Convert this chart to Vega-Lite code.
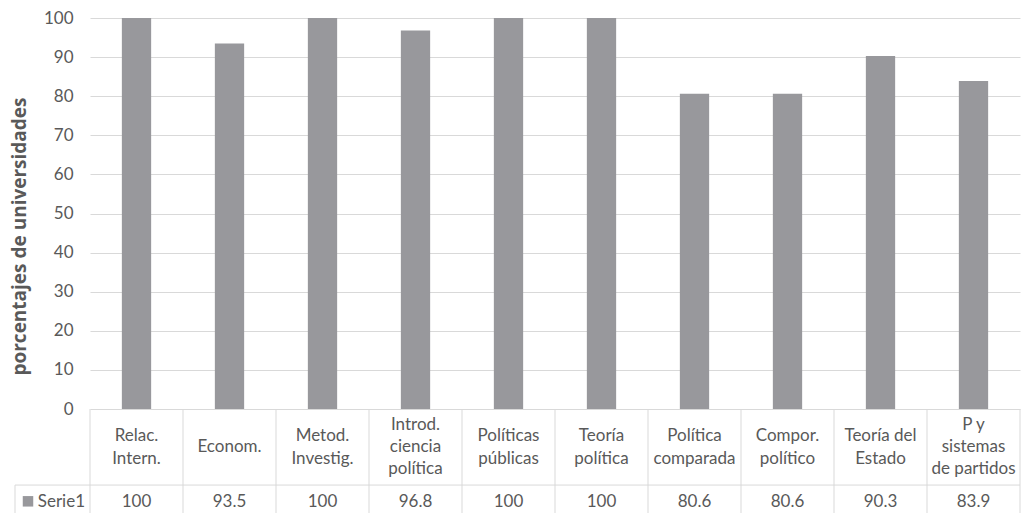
{
  "$schema": "https://vega.github.io/schema/vega-lite/v6.json",
  "autosize": "none",
  "width": 930,
  "height": 497,
  "padding": {"left": 90, "top": 18, "right": 2, "bottom": 0},
  "background": "white",
  "config": {
    "view": {"stroke": null},
    "font": "Lato",
    "text": {"font": "Lato", "fontSize": 17, "fill": "#595959"}
  },
  "data": {
    "values": [
      {"cat": "Relac.\nIntern.", "v": 100},
      {"cat": "Econom.", "v": 93.5},
      {"cat": "Metod.\nInvestig.", "v": 100},
      {"cat": "Introd.\nciencia\npolítica", "v": 96.8},
      {"cat": "Políticas\npúblicas", "v": 100},
      {"cat": "Teoría\npolítica", "v": 100},
      {"cat": "Política\ncomparada", "v": 80.6},
      {"cat": "Compor.\npolítico", "v": 80.6},
      {"cat": "Teoría del\nEstado", "v": 90.3},
      {"cat": "P y\nsistemas\nde partidos", "v": 83.9}
    ]
  },
  "encoding": {
    "x": {
      "field": "cat",
      "type": "nominal",
      "sort": null,
      "scale": {"paddingInner": 0, "paddingOuter": 0},
      "axis": null
    }
  },
  "layer": [
    {
      "mark": {"type": "bar", "color": "#98989c", "width": {"band": 0.315}},
      "encoding": {
        "y": {
          "field": "v",
          "type": "quantitative",
          "scale": {"domain": [-27.1, 100], "nice": false, "zero": false},
          "axis": {
            "values": [0, 10, 20, 30, 40, 50, 60, 70, 80, 90, 100],
            "grid": true,
            "gridColor": "#d9d9d9",
            "gridWidth": 1,
            "domain": false,
            "ticks": false,
            "labelFont": "Lato",
            "labelFontSize": 17,
            "labelColor": "#595959",
            "labelPadding": 17,
            "title": "porcentajes de universidades",
            "titleFont": "Open Sans",
            "titleFontSize": 19,
            "titleFontWeight": "bold",
            "titleColor": "#595959",
            "titleAngle": 270,
            "titleAlign": "center",
            "titleBaseline": "middle",
            "titleX": -71,
            "titleY": 218
          }
        }
      }
    },
    {
      "mark": {"type": "rule", "color": "#d9d9d9", "strokeWidth": 1},
      "encoding": {
        "x": {"field": "cat", "type": "nominal", "sort": null, "bandPosition": 0},
        "y": {"datum": 0},
        "y2": {"datum": -27.1}
      }
    },
    {
      "transform": [{"filter": {"field": "cat", "equal": "P y\nsistemas\nde partidos"}}],
      "mark": {"type": "rule", "color": "#d9d9d9", "strokeWidth": 1},
      "encoding": {
        "x": {"field": "cat", "type": "nominal", "sort": null, "bandPosition": 1},
        "y": {"datum": 0},
        "y2": {"datum": -27.1}
      }
    },
    {
      "transform": [{"filter": {"field": "cat", "equal": "Relac.\nIntern."}}],
      "mark": {"type": "rule", "color": "#d9d9d9", "strokeWidth": 1, "xOffset": -75},
      "encoding": {
        "x": {"field": "cat", "type": "nominal", "sort": null, "bandPosition": 0},
        "y": {"datum": -19.44},
        "y2": {"datum": -27.1}
      }
    },
    {
      "transform": [{"filter": {"field": "cat", "equal": "Relac.\nIntern."}}],
      "mark": {"type": "rule", "color": "#d9d9d9", "strokeWidth": 1, "xOffset": -75},
      "encoding": {
        "x": {"field": "cat", "type": "nominal", "sort": null, "bandPosition": 0},
        "x2": {"datum": "P y\nsistemas\nde partidos", "bandPosition": 1},
        "y": {"datum": -19.44}
      }
    },
    {
      "transform": [{"filter": "length(split(datum.cat, '\\n')) == 1"}],
      "mark": {"type": "text", "lineBreak": "\n", "baseline": "middle", "align": "center", "lineHeight": 22, "fontSize": 17, "color": "#595959"},
      "encoding": {
        "y": {"datum": -9.72},
        "text": {"field": "cat"}
      }
    },
    {
      "transform": [{"filter": "length(split(datum.cat, '\\n')) == 2"}],
      "mark": {"type": "text", "lineBreak": "\n", "baseline": "middle", "align": "center", "lineHeight": 23, "fontSize": 17, "color": "#595959", "dy": -11.5},
      "encoding": {
        "y": {"datum": -9.72},
        "text": {"field": "cat"}
      }
    },
    {
      "transform": [{"filter": "length(split(datum.cat, '\\n')) == 3"}],
      "mark": {"type": "text", "lineBreak": "\n", "baseline": "middle", "align": "center", "lineHeight": 22, "fontSize": 17, "color": "#595959", "dy": -22},
      "encoding": {
        "y": {"datum": -9.72},
        "text": {"field": "cat"}
      }
    },
    {
      "mark": {"type": "text", "baseline": "middle", "align": "center", "fontSize": 17, "color": "#595959"},
      "encoding": {
        "y": {"datum": -23.9},
        "text": {"field": "v", "format": ".1~f"}
      }
    },
    {
      "transform": [{"filter": {"field": "cat", "equal": "Relac.\nIntern."}}],
      "mark": {"type": "text", "baseline": "middle", "align": "right", "fontSize": 17, "color": "#595959", "xOffset": -5},
      "encoding": {
        "x": {"field": "cat", "type": "nominal", "sort": null, "bandPosition": 0},
        "y": {"datum": -23.9},
        "text": {"value": "Serie1"}
      }
    },
    {
      "transform": [{"filter": {"field": "cat", "equal": "Relac.\nIntern."}}],
      "mark": {"type": "point", "shape": "square", "filled": true, "size": 110, "color": "#98989c", "opacity": 1, "xOffset": -62},
      "encoding": {
        "x": {"field": "cat", "type": "nominal", "sort": null, "bandPosition": 0},
        "y": {"datum": -23.6}
      }
    }
  ]
}
